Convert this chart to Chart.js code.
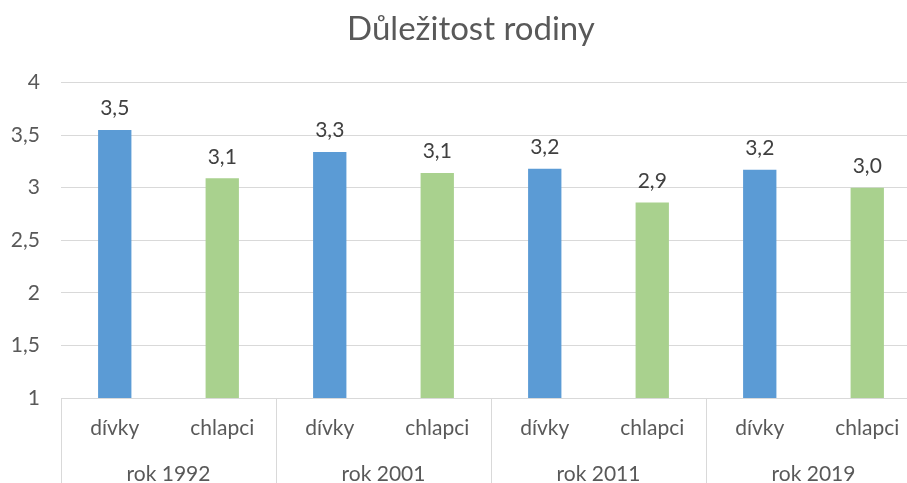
<!DOCTYPE html>
<html>
<head>
<meta charset="utf-8">
<script src="https://cdn.jsdelivr.net/npm/chart.js@4/dist/chart.umd.min.js"></script>
<style>
  html, body { margin: 0; padding: 0; background: #fff; overflow: hidden; }
  #wrap { width: 942px; height: 483px; }
</style>
</head>
<body>
<div id="wrap"><canvas id="family-chart" width="942" height="483"></canvas></div>
<script>
// data
var years = ['rok 1992', 'rok 2001', 'rok 2011', 'rok 2019'];
var groups = ['dívky', 'chlapci'];
var divky = [3.55, 3.34, 3.18, 3.17];
var chlapci = [3.09, 3.14, 2.86, 3.00];
var yTicks = [1, 1.5, 2, 2.5, 3, 3.5, 4];

var FONT = 'Lato, "Open Sans", sans-serif';

// one label per bar, girls then boys inside each year
var labels = [];
var girlsData = [];
var boysData = [];
years.forEach(function (y, i) {
    labels.push(groups[0]);
    labels.push(groups[1]);
    girlsData.push(divky[i], null);
    boysData.push(null, chlapci[i]);
});

function comma(v, dec) {
    return (dec == null ? String(v) : v.toFixed(dec)).replace('.', ',');
}

// value labels on top of bars
var valueLabels = {
    id: 'valueLabels',
    afterDatasetsDraw: function (chart) {
        var ctx = chart.ctx;
        ctx.save();
        ctx.font = '21px ' + FONT;
        ctx.fillStyle = '#404040';
        ctx.textAlign = 'center';
        ctx.textBaseline = 'bottom';
        chart.data.datasets.forEach(function (ds, di) {
            chart.getDatasetMeta(di).data.forEach(function (bar, i) {
                if (ds.data[i] == null) return;
                ctx.fillText(comma(ds.data[i], 1), bar.x, bar.y - 11);
            });
        });
        ctx.restore();
    }
};

// second row of the category axis: years + separators
var yearAxis = {
    id: 'yearAxis',
    afterDraw: function (chart) {
        var ctx = chart.ctx;
        var x = chart.scales.x;
        var top = chart.chartArea.bottom;
        var half = (x.getPixelForValue(1) - x.getPixelForValue(0)) / 2;
        ctx.save();
        ctx.strokeStyle = '#d9d9d9';
        ctx.lineWidth = 1;
        for (var i = 0; i <= years.length; i++) {
            var px = Math.round(x.getPixelForValue(i * 2) - half) + 0.5;
            ctx.beginPath();
            ctx.moveTo(px, top);
            ctx.lineTo(px, chart.height);
            ctx.stroke();
        }
        ctx.font = '21px ' + FONT;
        ctx.fillStyle = '#595959';
        ctx.textAlign = 'center';
        ctx.textBaseline = 'middle';
        years.forEach(function (y, i) {
            var cx = (x.getPixelForValue(i * 2) + x.getPixelForValue(i * 2 + 1)) / 2;
            ctx.fillText(y, cx, top + 76);
        });
        ctx.restore();
    }
};

var ctx = document.getElementById('family-chart').getContext('2d');
new Chart(ctx, {
    type: 'bar',
    data: {
        labels: labels,
        datasets: [
            {
                label: groups[0],
                data: girlsData,
                backgroundColor: '#5B9BD5'
            },
            {
                label: groups[1],
                data: boysData,
                backgroundColor: '#A9D18E'
            }
        ]
    },
    options: {
        responsive: false,
        animation: false,
        layout: { padding: 0 },
        datasets: {
            bar: { grouped: false, barPercentage: 0.31, categoryPercentage: 1 }
        },
        plugins: {
            legend: { display: false },
            tooltip: { enabled: false },
            title: {
                display: true,
                text: 'Důležitost rodiny',
                color: '#595959',
                font: { family: FONT, size: 33, weight: 'normal' },
                padding: { top: 10, bottom: 33 }
            }
        },
        scales: {
            x: {
                grid: { display: false },
                border: { display: true, color: '#d9d9d9' },
                ticks: {
                    color: '#595959',
                    font: { family: FONT, size: 21 },
                    padding: 10,
                    maxRotation: 0,
                    autoSkip: false
                },
                afterFit: function (s) { s.height = 85; }
            },
            y: {
                min: 1,
                max: 4,
                afterBuildTicks: function (s) {
                    s.ticks = yTicks.map(function (v) { return { value: v }; });
                },
                grid: { color: '#d9d9d9', drawTicks: false },
                border: { display: false },
                ticks: {
                    color: '#595959',
                    font: { family: FONT, size: 21 },
                    padding: 21,
                    callback: function (v) { return comma(v); }
                },
                afterFit: function (s) { s.width = 61; }
            },
            // empty strip on the right so the title stays centred on the whole box
            yRight: {
                position: 'right',
                grid: { display: false },
                border: { display: false },
                ticks: { display: false },
                afterFit: function (s) { s.width = 21; }
            }
        }
    },
    plugins: [valueLabels, yearAxis]
});
</script>
</body>
</html>
